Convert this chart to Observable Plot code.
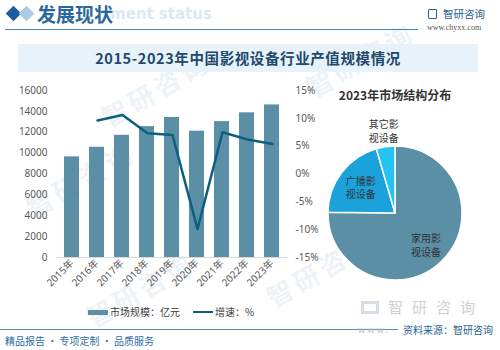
<!DOCTYPE html>
<html><head><meta charset="utf-8">
<script src="https://cdn.jsdelivr.net/npm/d3@7"></script>
<script src="https://cdn.jsdelivr.net/npm/@observablehq/plot@0.6"></script>
<style>
body{margin:0;background:#fff;}
#page{position:relative;width:500px;height:350px;overflow:hidden;background:#fff;font-family:"Noto Sans CJK SC","Noto Sans",sans-serif;}
.abs{position:absolute;white-space:nowrap;}
.wm{position:absolute;color:rgba(205,220,232,0.35);font-size:26px;font-weight:bold;transform:rotate(-30deg);white-space:nowrap;letter-spacing:4px;}
</style></head>
<body><div id="page">
<div class="wm" style="left:95px;top:70px;">智研咨询</div>
<div class="wm" style="left:300px;top:40px;">智研咨询</div>
<div class="wm" style="left:80px;top:270px;">智研咨询</div>
<div class="wm" style="left:20px;top:160px;">智研咨询</div>
<div class="wm" style="left:260px;top:250px;">智研咨询</div>

<div class="abs" style="left:8px;top:8px;width:11px;height:11px;background:#1d5d9b;transform:rotate(45deg);"></div>
<div class="abs" style="left:21px;top:8px;width:11px;height:11px;background:#a9cbe8;transform:rotate(45deg);"></div>
<div class="abs" style="left:110px;top:5px;font:bold 15px 'DejaVu Sans',sans-serif;color:#dce9f4;">ment status</div>
<div class="abs" style="left:37px;top:0px;font-weight:bold;font-size:19px;line-height:28px;color:#2b679c;">发展现状</div>
<div class="abs" style="left:5px;top:29px;width:413px;height:1px;background:#4a84b4;"></div>

<div class="abs" style="left:428px;top:9px;width:9px;height:10px;border:1.5px solid #2b5d91;border-radius:1px;box-sizing:border-box;"></div>
<div class="abs" style="left:443px;top:6px;font-size:10.5px;color:#2b5d91;">智研咨询</div>
<div class="abs" style="left:427px;top:23px;font:8px 'Liberation Serif',serif;color:#555;">www.chyxx.com</div>

<div class="abs" style="left:18px;top:44px;width:460px;height:28px;background:#e7f2fa;"></div>
<div class="abs" id="title" style="left:18px;top:44px;width:460px;height:28px;line-height:28px;text-align:center;font-weight:bold;font-size:14.5px;letter-spacing:0.6px;color:#22496b;">2015-2023年中国影视设备行业产值规模情况</div>

<div id="bars" class="abs" style="left:0;top:80px;"></div>
<div id="line" class="abs" style="left:0;top:80px;"></div>

<div class="abs" style="left:320px;top:86px;width:150px;text-align:center;font-weight:bold;font-size:12px;color:#333;">2023年市场结构分布</div>
<div id="pie" class="abs" style="left:320px;top:100px;"></div>

<div class="abs" style="left:88px;top:310px;width:20px;height:5px;background:#5b8fa6;"></div>
<div class="abs" style="left:110px;top:304px;font-size:10px;color:#404040;">市场规模：亿元</div>
<div class="abs" style="left:193px;top:311px;width:20px;height:2px;background:#0d5f82;"></div>
<div class="abs" style="left:215px;top:304px;font-size:10px;color:#404040;">增速：%</div>

<div class="abs" style="left:361px;top:301px;width:18px;height:13px;border:3px solid #d6dde4;box-sizing:border-box;"></div>
<div class="abs" style="left:388px;top:297px;font-size:15px;line-height:20px;letter-spacing:9px;color:#d0d0d0;">智研咨询</div>
<div class="abs" style="left:0;top:329px;width:398px;height:1px;background:#5a8fb8;"></div>
<div class="abs" style="left:358px;top:323px;font-size:9px;color:#bbb;letter-spacing:2px;">www.</div>
<div class="abs" style="left:403px;top:322px;font-size:10px;color:#1f5f96;">资料来源：智研咨询</div>
<div class="abs" style="left:5px;top:333px;font-size:10px;color:#2e6da4;">精品报告 · 专项定制 · 品质服务</div>
</div>
<script>
const years = ["2015年","2016年","2017年","2018年","2019年","2020年","2021年","2022年","2023年"];
const marketSize = [9640, 10560, 11710, 12540, 13410, 12100, 13020, 13860, 14620];
const growthRate = [null, 9.6, 10.6, 7.3, 7.0, -9.9, 7.5, 6.2, 5.4];
const leftTicks = [0,2000,4000,6000,8000,10000,12000,14000,16000];
const rightTicks = [-15,-10,-5,0,5,10,15];
const segments = ["家用影\n视设备","广播影\n视设备","其它影\n视设备"];
const shares = [75.2, 20.3, 4.5];

const barColor = "#5b8fa6", lineColor = "#0d5f82";
const pieColors = ["#5b8fa6", "#1ba2db", "#25c3f5"];
const font = "'Noto Sans','Noto Sans CJK SC',sans-serif";

const table = years.map((y,i)=>({year:y, size:marketSize[i], growth:growthRate[i]}));
const dims = {width:320, height:220, marginTop:10, marginBottom:43, marginLeft:56, marginRight:33};

const barPlot = Plot.plot({
  ...dims,
  style:{fontSize:"10px", fontFamily:font, color:"#595959", background:"transparent"},
  x:{domain:years, paddingInner:0.42, paddingOuter:0.21, label:null},
  y:{domain:[0,16000], label:null},
  marks:[
    Plot.barY(table, {x:"year", y:"size", fill:barColor}),
    Plot.ruleY([0], {stroke:"#d9d9d9"}),
    Plot.axisY({ticks:leftTicks, tickSize:0, tickPadding:9, tickFormat:d=>String(d), label:null}),
    Plot.axisX({tickSize:0, tickPadding:4, tickRotate:-45, label:null})
  ]
});
document.getElementById("bars").appendChild(barPlot);

const linePlot = Plot.plot({
  ...dims,
  style:{fontSize:"10px", fontFamily:font, color:"#595959", background:"transparent"},
  x:{type:"point", domain:years, padding:0.5, axis:null},
  y:{domain:[-15,15], label:null, axis:null},
  marks:[
    Plot.line(table.filter(d=>d.growth!=null), {x:"year", y:"growth", stroke:lineColor, strokeWidth:2.5}),
    Plot.axisY({anchor:"right", ticks:rightTicks, tickSize:0, tickPadding:8, tickFormat:d=>d+"%", label:null})
  ]
});
document.getElementById("line").appendChild(linePlot);

const pieData = segments.map((s,i)=>({name:s, share:shares[i], color:pieColors[i]}));
const arcs = d3.pie().sort(null).value(d=>d.share)(pieData);
const labels = arcs.map((a,i)=>{
  const mid = (a.startAngle + a.endAngle)/2;
  const k = i===2 ? 1.25 : 0.65;
  return {name:a.data.name, x:Math.sin(mid)*k, y:Math.cos(mid)*k};
});
const piePlot = Plot.plot({
  width:160, height:200, marginLeft:8, marginRight:18, marginTop:46, marginBottom:20,
  style:{fontSize:"10px", fontFamily:font, background:"transparent"},
  x:{domain:[-1,1], axis:null},
  y:{domain:[-1,1], axis:null},
  marks:[
    (index, scales) => {
      const cx = scales.x(0), cy = scales.y(0), r = scales.x(1) - scales.x(0);
      const arc = d3.arc().innerRadius(0).outerRadius(r);
      const g = d3.create("svg:g").attr("transform", `translate(${cx},${cy})`);
      g.selectAll("path").data(arcs).join("path")
        .attr("d", arc).attr("fill", d=>d.data.color)
        .attr("stroke", "#fff").attr("stroke-width", 1.5);
      return g.node();
    },
    Plot.text(labels, {x:"x", y:"y", text:"name", fill:"#333", lineHeight:1.35, fontSize:10})
  ]
});
document.getElementById("pie").appendChild(piePlot);
</script>
</body></html>
